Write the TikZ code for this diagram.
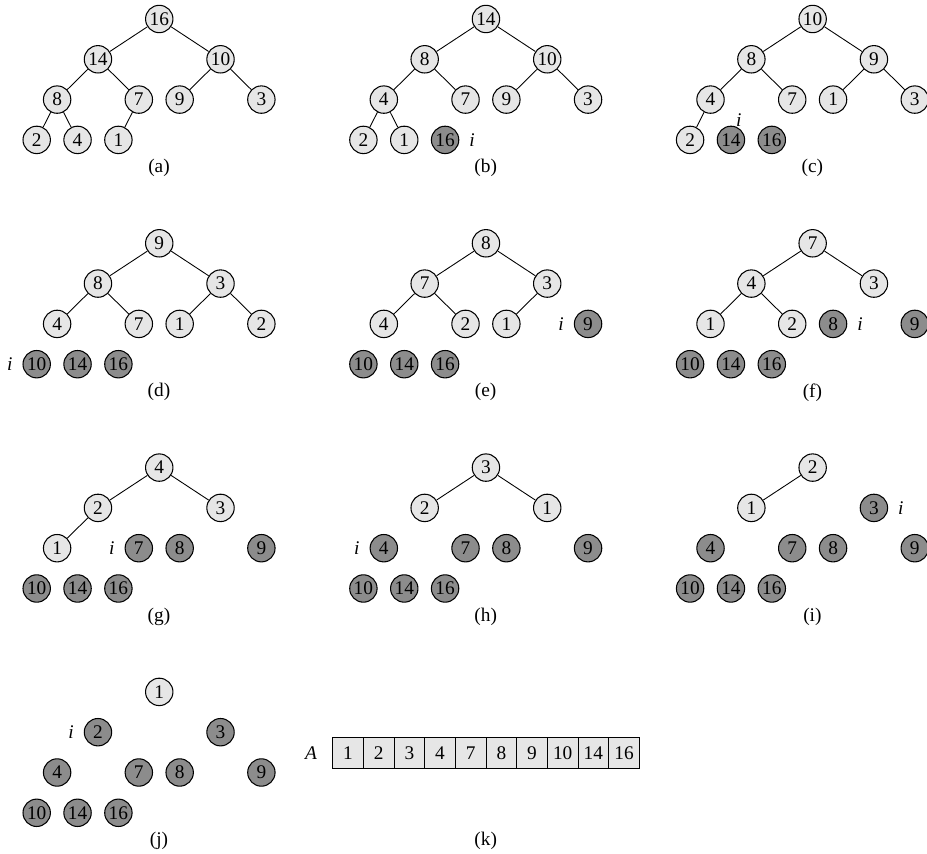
\documentclass[tikz,border=0pt]{standalone}
\usepackage{fontspec}
\setmainfont{Liberation Serif}
\usetikzlibrary{positioning, math}
\definecolor{keylight}{RGB}{230,230,230}
\definecolor{keydark}{RGB}{140,140,140}

% one heap snapshot: name, column, row, keys, heap size
\newcommand{\heappanel}[5]{%
\begin{scope}[shift={(#2*\px,#3*\py)}]
\foreach \v [count=\n] in {#4} {
  \pgfmathsetmacro\kx{{3,1.5,4.5,0.5,2.5,3.5,5.5,0,1,2}[\n-1]}
  \pgfmathsetmacro\lv{{0,1,1,2,2,2,2,3,3,3}[\n-1]}
  \ifnum\n>#5\relax \tikzset{keystyle/.style={sortedkey}}\else \tikzset{keystyle/.style={heapkey}}\fi
  \node[keystyle] (#1\n) at ({36.7+\kx*\dx},{19+\lv*\dy}) {\v};
}
\ifnum#5>1
\foreach \n in {2,...,#5} {
  \pgfmathtruncatemacro\p{\n/2}
  \draw[heapedge] (#1\p) -- (#1\n);
}
\fi
\node[txt] (#1lab) at (159,168) {(#1)};
\end{scope}}

\begin{document}
\begin{tikzpicture}[x=0.02cm,y=-0.02cm,
  txt/.style={inner sep=1pt,font=\fontsize{11}{13}\selectfont},
  heapkey/.style={circle,draw,line width=0.6pt,fill=keylight,minimum size=0.548cm,inner sep=0pt,font=\fontsize{11}{13}\selectfont},
  sortedkey/.style={heapkey,fill=keydark},
  heapedge/.style={line width=0.5pt},
  ilab/.style={txt,font=\fontsize{11}{13}\selectfont\itshape},
  cell/.style={draw,line width=0.6pt,fill=keylight,minimum width=0.6134cm,minimum height=0.62cm,inner sep=0pt,font=\fontsize{11}{13}\selectfont},
  node distance=4.5pt]
\tikzmath{
\dx=40.85;
\dy=40.3;
\px=326.7;
\py=224.3;
}
\useasboundingbox (0,0) rectangle (927,854);

\heappanel{a}{0}{0}{16,14,10,8,7,9,3,2,4,1}{10}
\heappanel{b}{1}{0}{14,8,10,4,7,9,3,2,1,16}{9}
\node[ilab,right=of b10] (ib) {i};
\heappanel{c}{2}{0}{10,8,9,4,7,1,3,2,14,16}{8}
\node[ilab,above=-1.8pt of c9,xshift=4.5pt] (ic) {i};

%%%%%%%%%% second row
\heappanel{d}{0}{1}{9,8,3,4,7,1,2,10,14,16}{7}
\node[ilab,left=of d8] (id) {i};
\heappanel{e}{1}{1}{8,7,3,4,2,1,9,10,14,16}{6}
\node[ilab,left=of e7] (ie) {i};
\heappanel{f}{2}{1}{7,4,3,1,2,8,9,10,14,16}{5}
\node[ilab,right=of f6] (if) {i};

%%%%%%%%%% third row
\heappanel{g}{0}{2}{4,2,3,1,7,8,9,10,14,16}{4}
\node[ilab,left=of g5] (ig) {i};
\heappanel{h}{1}{2}{3,2,1,4,7,8,9,10,14,16}{3}
\node[ilab,left=of h4] (ih) {i};
\heappanel{i}{2}{2}{2,1,3,4,7,8,9,10,14,16}{2}
\node[ilab,right=of i3] (ii) {i};

%%%%%%%%%% last row
\heappanel{j}{0}{3}{1,2,3,4,7,8,9,10,14,16}{1}
\node[ilab,left=of j2] (ij) {i};

% sorted array
\node[ilab] (A) at (311,753) {A};
\foreach \v [count=\n] in {1,2,3,4,7,8,9,10,14,16}
  \node[cell] (k\n) at ({332.7+30.67*(\n-0.5)},752.8) {\v};
\node[txt] (klab) at (485.7,840.9) {(k)};
\end{tikzpicture}
\end{document}
